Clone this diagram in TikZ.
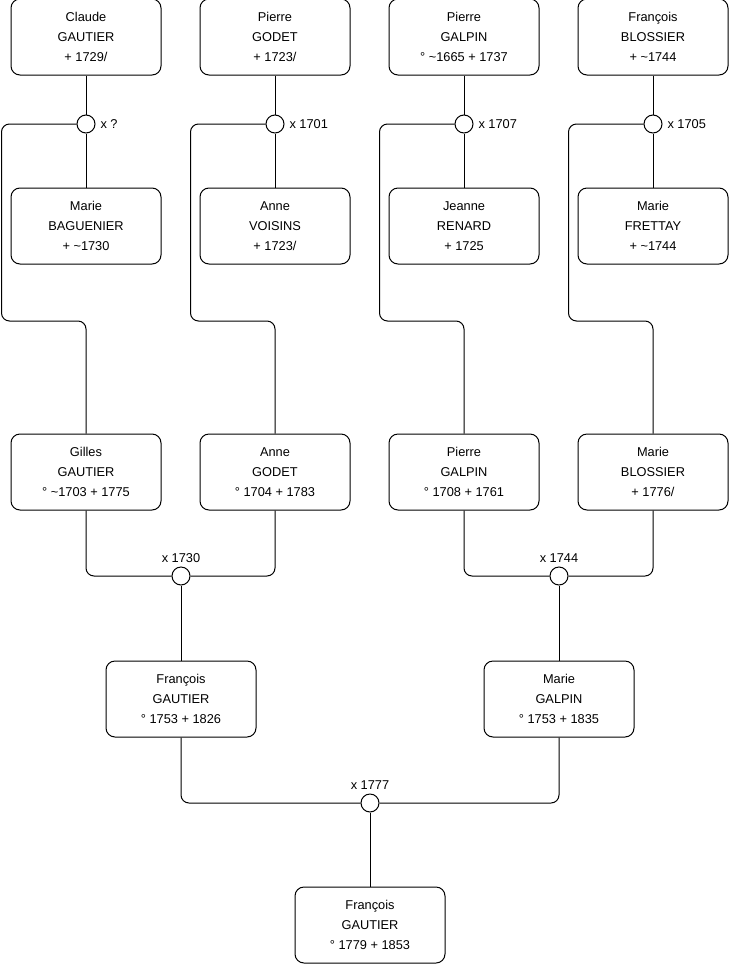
\documentclass[tikz,border=0pt]{standalone}
\usepackage{fontspec}
\setmainfont{Liberation Sans}
\usetikzlibrary{positioning}

\begin{document}
\begin{tikzpicture}[x=1pt, y=-1pt,
  person/.style={draw, rounded corners=9pt, minimum width=150pt, minimum height=76pt,
    align=center, font=\fontsize{12.8}{20}\selectfont, line width=1pt},
  wed/.style={draw, circle, minimum size=18pt, inner sep=0pt, fill=white, line width=1pt},
  link/.style={line width=1pt, rounded corners=8pt},
  year/.style={font=\fontsize{12.8}{14}\selectfont}]
  \useasboundingbox (0,0) rectangle (740,975);

  % Generation 1: husbands
  \node[person] (claude)   at (86,37)  {Claude\\GAUTIER\\+ 1729/};
  \node[person] (pierreg)  at (275,37) {Pierre\\GODET\\+ 1723/};
  \node[person] (pierreal) at (464,37) {Pierre\\GALPIN\\° \textasciitilde1665 + 1737};
  \node[person] (francb)   at (653,37) {François\\BLOSSIER\\+ \textasciitilde1744};

  % Generation 1: marriages
  \foreach \n/\x/\t in {wa/86/x ?, wb/275/x 1701, wc/464/x 1707, wd/653/x 1705} {
    \node[wed] (\n) at (\x,124) {};
    \node[year, right=1.5pt of \n] (\n-y) {\t};
  }

  % Generation 1: wives
  \node[person] (marieba)  at (86,226)  {Marie\\BAGUENIER\\+ \textasciitilde1730};
  \node[person] (annev)    at (275,226) {Anne\\VOISINS\\+ 1723/};
  \node[person] (jeanne)   at (464,226) {Jeanne\\RENARD\\+ 1725};
  \node[person] (mariefr)  at (653,226) {Marie\\FRETTAY\\+ \textasciitilde1744};

  % Generation 2
  \node[person] (gilles)   at (86,472)  {Gilles\\GAUTIER\\° \textasciitilde1703 + 1775};
  \node[person] (anneg)    at (275,472) {Anne\\GODET\\° 1704 + 1783};
  \node[person] (pierre)   at (464,472) {Pierre\\GALPIN\\° 1708 + 1761};
  \node[person] (mariebl)  at (653,472) {Marie\\BLOSSIER\\+ 1776/};

  \node[wed] (we) at (181,576) {};
  \node[year, above=0pt of we] (we-y) {x 1730};
  \node[wed] (wf) at (559,576) {};
  \node[year, above=0pt of wf] (wf-y) {x 1744};

  % Generation 3
  \node[person] (francois) at (181,699) {François\\GAUTIER\\° 1753 + 1826};
  \node[person] (marieg)   at (559,699) {Marie\\GALPIN\\° 1753 + 1835};

  \node[wed] (wg) at (370,803) {};
  \node[year, above=0pt of wg] (wg-y) {x 1777};

  % Generation 4
  \node[person] (francoisg) at (370,925) {François\\GAUTIER\\° 1779 + 1853};

  % Couples
  \foreach \h/\w/\m in {claude/marieba/wa, pierreg/annev/wb, pierreal/jeanne/wc, francb/mariefr/wd} {
    \draw[link] (\h) -- (\m) -- (\w);
  }

  % Children of the first marriages
  \draw[link] (wa.west) -| ++(-75,197) -| (gilles.north);
  \draw[link] (wb.west) -| ++(-75,197) -| (anneg.north);
  \draw[link] (wc.west) -| ++(-75,197) -| (pierre.north);
  \draw[link] (wd.west) -| ++(-75,197) -| (mariebl.north);

  % Second and third marriages
  \draw[link] (gilles.south) |- (we.west);
  \draw[link] (anneg.south) |- (we.east);
  \draw[link] (we) -- (francois);
  \draw[link] (pierre.south) |- (wf.west);
  \draw[link] (mariebl.south) |- (wf.east);
  \draw[link] (wf) -- (marieg);
  \draw[link] (francois.south) |- (wg.west);
  \draw[link] (marieg.south) |- (wg.east);
  \draw[link] (wg) -- (francoisg);
\end{tikzpicture}
\end{document}
